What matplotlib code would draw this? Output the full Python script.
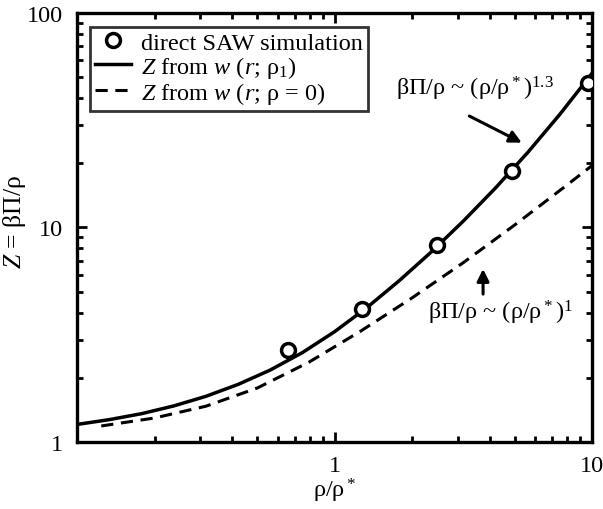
import numpy as np
import matplotlib
matplotlib.use('Agg')
import matplotlib.pyplot as plt
from matplotlib.ticker import FixedLocator, LogLocator, NullFormatter, FixedFormatter

plt.rcParams['font.family'] = ['Liberation Serif', 'DejaVu Serif']
plt.rcParams['mathtext.fontset'] = 'custom'
plt.rcParams['mathtext.rm'] = 'Liberation Serif'
plt.rcParams['mathtext.it'] = 'Liberation Serif:italic'

# direct SAW simulation points
saw_x = [0.66, 1.28, 2.5, 4.9, 9.6]
saw_z = [2.68, 4.15, 8.25, 18.4, 47.3]

# Z from w(r; rho_1)  (solid)
rho1_x = [0.1, 0.133, 0.178, 0.237, 0.316, 0.422, 0.562, 0.75, 1.0, 1.334,
          1.778, 2.371, 3.162, 4.217, 5.623, 7.499, 10.0]
rho1_z = [1.21, 1.273, 1.358, 1.475, 1.635, 1.859, 2.168, 2.615, 3.273, 4.235,
          5.64, 7.685, 10.72, 15.29, 22.36, 33.7, 52.3]

# Z from w(r; rho=0)  (dashed)
rho0_x = [0.124, 0.1995, 0.3162, 0.5012, 0.7943, 1.259, 1.995, 3.162, 5.012, 7.943, 10.0]
rho0_z = [1.19, 1.296, 1.471, 1.789, 2.358, 3.285, 4.694, 6.863, 10.29, 15.69, 19.45]

fs = 17.5

fig = plt.figure(figsize=(6.03, 5.10), dpi=100)
ax = fig.add_axes([0.128, 0.131, 0.854, 0.842])

ax.plot(saw_x, saw_z, 'o', ms=10, mfc='white', mec='black', mew=2.5, ls='none',
        label='direct SAW simulation', zorder=3)
ax.plot(rho1_x, rho1_z, '-', color='black', lw=2.5, label=r'$Z$ from $w$ ($r$; ρ$_1$)')
ax.plot(rho0_x, rho0_z, '--', color='black', lw=2.2, dashes=(4, 2.5),
        label=r'$Z$ from $w$ ($r$; ρ = 0)')

ax.set_xscale('log')
ax.set_yscale('log')
ax.set_xlim(0.1, 10)
ax.set_ylim(1, 100)

ax.xaxis.set_major_locator(FixedLocator([1, 10]))
ax.xaxis.set_major_formatter(FixedFormatter(['1', '10']))
ax.yaxis.set_major_locator(FixedLocator([1, 10, 100]))
ax.yaxis.set_major_formatter(FixedFormatter(['1', '10', '100']))
ax.xaxis.set_minor_locator(LogLocator(subs=np.arange(2, 10)))
ax.yaxis.set_minor_locator(LogLocator(subs=np.arange(2, 10)))
ax.xaxis.set_minor_formatter(NullFormatter())
ax.yaxis.set_minor_formatter(NullFormatter())

ax.tick_params(which='both', direction='in', top=True, right=True, width=2, labelsize=fs)
ax.tick_params(axis='x', pad=9)
ax.tick_params(axis='y', pad=10)
ax.tick_params(which='major', length=7)
ax.tick_params(which='minor', length=4)
for s in ax.spines.values():
    s.set_linewidth(2.4)

ax.set_xlabel('ρ/ρ$^*$', fontsize=fs, labelpad=0)
ax.set_ylabel(r'$Z$ = βΠ/ρ', fontsize=fs + 1)
ax.yaxis.set_label_coords(-0.095, 0.515)

leg = ax.legend(loc='upper left', bbox_to_anchor=(0.025, 0.967), fontsize=fs, frameon=True,
                fancybox=False, edgecolor='black', borderpad=0.2, labelspacing=0.0,
                handlelength=1.5, handletextpad=0.4, borderaxespad=0.0)
leg.get_frame().set_linewidth(2)

ax.annotate('', xy=(5.45, 24.5), xytext=(3.26, 33.5),
            arrowprops=dict(arrowstyle='-|>', color='black', lw=2.2, mutation_scale=18))
ax.text(3.5, 44.8, 'βΠ/ρ ~ (ρ/ρ$^*$)$^{1.3}$', fontsize=fs, ha='center', va='center')

ax.annotate('', xy=(3.77, 6.6), xytext=(3.77, 4.75),
            arrowprops=dict(arrowstyle='-|>', color='black', lw=2.2, mutation_scale=18))
ax.text(4.39, 4.03, 'βΠ/ρ ~ (ρ/ρ$^*$)$^1$', fontsize=fs, ha='center', va='center')

fig.savefig('out.png', dpi=100)
